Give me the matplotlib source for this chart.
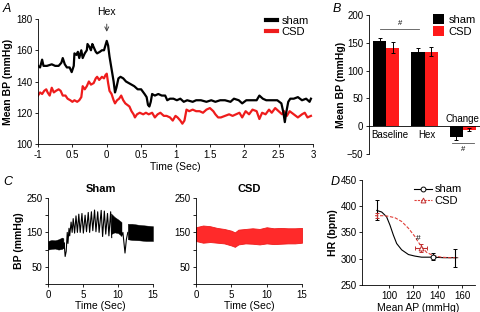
import matplotlib
matplotlib.use("Agg")
import matplotlib.pyplot as plt
import numpy as np
from matplotlib.lines import Line2D

plt.rcParams['font.family'] = ['Liberation Sans', 'DejaVu Sans']
plt.rcParams['font.size'] = 7
plt.rcParams['axes.linewidth'] = 0.6
plt.rcParams['xtick.major.width'] = 0.6
plt.rcParams['ytick.major.width'] = 0.6
plt.rcParams['xtick.major.size'] = 2.5
plt.rcParams['ytick.major.size'] = 2.5

RED = '#ee1c1c'

# ---------------- Panel A data ----------------
a_sham_t = [-1.00, -0.97, -0.94, -0.92, -0.87, -0.80, -0.75, -0.70, -0.66, -0.64, -0.61, -0.58, -0.54,
            -0.51, -0.48, -0.47, -0.44, -0.42, -0.40, -0.37, -0.35, -0.32, -0.29, -0.28, -0.25, -0.23,
            -0.21, -0.19, -0.16, -0.14, -0.10, -0.07, -0.04, -0.02, 0.00, 0.02, 0.04, 0.07, 0.10, 0.12,
            0.14, 0.17, 0.20, 0.24, 0.28, 0.32, 0.36, 0.40, 0.45, 0.50, 0.55, 0.58, 0.60, 0.62, 0.64,
            0.66, 0.70, 0.75, 0.80, 0.85, 0.88, 0.92, 0.97, 1.02, 1.07, 1.12, 1.17, 1.25, 1.30, 1.37,
            1.45, 1.52, 1.58, 1.65, 1.72, 1.80, 1.85, 1.92, 1.97, 2.03, 2.10, 2.18, 2.22, 2.27, 2.32,
            2.40, 2.48, 2.54, 2.57, 2.59, 2.61, 2.64, 2.67, 2.72, 2.78, 2.84, 2.90, 2.95, 2.97]
a_sham_v = [150, 149, 154, 150, 150, 151, 150, 150, 152, 155, 151, 149, 149,
            146, 150, 158, 157, 159, 155, 160, 155, 158, 160, 164, 162, 160,
            164, 162, 159, 158, 159, 160, 160, 163, 166, 163, 156, 148, 140, 133,
            136, 142, 143, 142, 140, 139, 138, 137, 135, 135, 132, 130, 125, 124, 127,
            132, 131, 132, 131, 131, 128, 129, 129, 128, 129, 127, 128, 127, 128, 128,
            127, 128, 127, 128, 128, 127, 129, 128, 126, 128, 128, 128, 131, 129, 128,
            128, 128, 126, 120, 114, 120, 127, 129, 129, 130, 128, 129, 127, 129]
a_csd_t = [-1.00, -0.97, -0.94, -0.91, -0.88, -0.86, -0.83, -0.80, -0.77, -0.74, -0.70, -0.67, -0.64,
           -0.60, -0.57, -0.53, -0.50, -0.47, -0.43, -0.40, -0.37, -0.35, -0.32, -0.29, -0.26, -0.23,
           -0.19, -0.16, -0.14, -0.11, -0.07, -0.04, -0.02, 0.00, 0.02, 0.04, 0.07, 0.10, 0.12, 0.15,
           0.18, 0.21, 0.24, 0.27, 0.30, 0.33, 0.36, 0.39, 0.41, 0.44, 0.48, 0.53, 0.57, 0.61, 0.66,
           0.70, 0.74, 0.78, 0.83, 0.87, 0.92, 0.96, 1.00, 1.03, 1.07, 1.10, 1.13, 1.16, 1.20, 1.25,
           1.30, 1.35, 1.40, 1.45, 1.50, 1.55, 1.58, 1.62, 1.66, 1.72, 1.78, 1.83, 1.88, 1.93, 1.97,
           2.02, 2.07, 2.12, 2.18, 2.22, 2.26, 2.31, 2.36, 2.40, 2.45, 2.50, 2.55, 2.58, 2.62, 2.66,
           2.72, 2.78, 2.84, 2.88, 2.92, 2.97]
a_csd_v = [131, 133, 132, 134, 135, 133, 131, 136, 133, 134, 135, 134, 131,
           131, 129, 128, 127, 128, 127, 128, 130, 137, 135, 137, 140, 138,
           139, 142, 143, 141, 143, 142, 144, 145, 139, 134, 132, 128, 126, 128,
           129, 131, 128, 126, 125, 124, 121, 119, 117, 119, 120, 119, 120, 119, 120,
           117, 119, 120, 118, 118, 117, 115, 118, 117, 115, 113, 115, 122, 121, 122,
           121, 121, 120, 122, 123, 121, 119, 117, 117, 118, 119, 118, 119, 120, 117,
           121, 119, 122, 121, 116, 120, 119, 122, 120, 123, 121, 119, 121, 118, 121,
           119, 117, 119, 120, 117, 118]
a_xticks = [-1, -0.5, 0, 0.5, 1, 1.5, 2, 2.5, 3]
a_xticklabels = ['-1', '0.5', '0', '0.5', '1', '1.5', '2', '2.5', '3']

# ---------------- Panel B data ----------------
b_groups = ['Baseline', 'Hex', 'Change']
b_sham = [154, 134, -20]
b_sham_err = [5, 7, 4]
b_csd = [141, 134, -6]
b_csd_err = [10, 8, 2]

# ---------------- Panel C data ----------------
c_sham_band1_t = [0.0, 0.5, 1.0, 1.5, 2.0, 2.2]
c_sham_band1_lo = [100, 102, 103, 100, 102, 105]
c_sham_band1_hi = [125, 128, 127, 130, 135, 133]
c_sham_zig_t = [2.2, 2.3, 2.45, 2.6, 2.75, 2.85, 3.0, 3.1, 3.3, 3.45, 3.6, 3.8, 4.0, 4.2, 4.4, 4.6,
                4.85, 5.05, 5.3, 5.5, 5.75, 5.95, 6.2, 6.4, 6.65, 6.85, 7.1, 7.3, 7.6, 7.8, 8.05,
                8.25, 8.5, 8.7, 8.95, 9.1]
c_sham_zig_v = [105, 120, 80, 95, 150, 118, 162, 140, 180, 150, 190, 148, 198, 150, 203, 150,
                205, 148, 200, 152, 208, 150, 210, 155, 215, 152, 210, 150, 214, 138, 212,
                145, 205, 140, 210, 135]
c_sham_band2_t = [9.0, 9.5, 10.0, 10.5]
c_sham_band2_lo = [145, 150, 148, 140]
c_sham_band2_hi = [205, 195, 188, 180]
c_sham_dip_t = [10.5, 10.7, 11.0, 11.2, 11.4]
c_sham_dip_v = [140, 150, 90, 130, 150]
c_sham_band3_t = [11.4, 12, 13, 14, 15]
c_sham_band3_lo = [130, 128, 127, 125, 125]
c_sham_band3_hi = [175, 175, 172, 170, 168]

c_csd_t = [0, 1, 2, 3, 4, 5, 5.5, 6, 7, 8, 9, 10, 11, 12, 13, 14, 15]
c_csd_lo = [125, 120, 122, 120, 118, 112, 108, 115, 118, 117, 115, 118, 116, 117, 118, 118, 120]
c_csd_hi = [165, 170, 168, 163, 160, 155, 150, 158, 160, 162, 160, 165, 162, 163, 162, 162, 163]

# ---------------- Panel D data ----------------
d_sham_x = [90, 136, 154]
d_sham_y = [392, 304, 302]
d_sham_yerr = [19, 7, 17]
d_csd_x = [90, 126]
d_csd_y = [382, 320]
d_csd_yerr = [5, 8]
d_csd_xerr = [0, 5]
d_sham_fit_x = [90, 94, 98, 100.8, 103.6, 106.3, 110.4, 116, 121.4, 126.8, 136, 145, 156]
d_sham_fit_y = [392, 389, 380, 364, 345, 329, 317, 308, 305, 303, 303, 302, 302]
d_csd_fit_x = [88.5, 95, 99.5, 105, 110.4, 116, 121.4, 124, 126.8, 131, 136.4, 143, 150, 157]
d_csd_fit_y = [382, 382, 381, 378, 371, 358, 342, 332, 323, 312, 306, 303, 302, 302]

W, H = 480, 312
fig = plt.figure(figsize=(4.8, 3.12), dpi=100)


def ax_px(l, t, r, b):
    return fig.add_axes([l / W, 1 - b / H, (r - l) / W, (b - t) / H])


def style(ax):
    ax.spines['top'].set_visible(False)
    ax.spines['right'].set_visible(False)


# ---------------- Panel A ----------------
axA = ax_px(38, 19, 313, 144)
style(axA)
axA.plot(a_sham_t, a_sham_v, color='black', lw=1.6, label='sham', zorder=3)
axA.plot(a_csd_t, a_csd_v, color=RED, lw=1.6, label='CSD', zorder=2)
axA.set_xlim(-1, 3)
axA.set_ylim(100, 180)
axA.set_yticks([100, 120, 140, 160, 180])
axA.set_xticks(a_xticks)
axA.set_xticklabels(a_xticklabels)
axA.set_ylabel('Mean BP (mmHg)', fontweight='bold', fontsize=7.5, labelpad=2)
axA.set_xlabel('Time (Sec)', fontsize=7.5, labelpad=2)
axA.tick_params(labelsize=7, pad=1.5)
axA.annotate('', xy=(0, 170), xytext=(0, 178.5),
             arrowprops=dict(arrowstyle='->', color='#444444', lw=0.7), annotation_clip=False)
axA.text(0, 181, 'Hex', ha='center', va='bottom', fontsize=7.5)
legA = axA.legend(loc='upper right', frameon=False, fontsize=8,
                  handlelength=1.0, handletextpad=0.4, borderaxespad=0.0, labelspacing=0.1,
                  bbox_to_anchor=(1.0, 1.06))
for line in legA.get_lines():
    line.set_linewidth(3)

# ---------------- Panel B ----------------
axB = ax_px(369, 15, 480, 154)
style(axB)
x = np.arange(len(b_groups))
bw = 0.34
axB.bar(x - bw / 2, b_sham, bw, color='black', label='sham')
axB.bar(x + bw / 2, b_csd, bw, color='#ff1a1a', label='CSD')
axB.errorbar(x - bw / 2, b_sham, yerr=b_sham_err, fmt='none', ecolor='black', elinewidth=0.7, capsize=1.5, capthick=0.7)
axB.errorbar(x + bw / 2, b_csd, yerr=b_csd_err, fmt='none', ecolor='black', elinewidth=0.7, capsize=1.5, capthick=0.7)
axB.set_xlim(-0.45, 2.45)
axB.set_ylim(-50, 200)
axB.set_yticks([-50, 0, 50, 100, 150, 200])
axB.spines['bottom'].set_position(('data', 0))
axB.spines['bottom'].set_bounds(-0.45, 2.6)
axB.set_xticks([])
axB.tick_params(labelsize=7, pad=1.5)
axB.set_ylabel('Mean BP (mmHg)', fontweight='bold', fontsize=7.5, labelpad=1)
axB.text(0.1, -16, b_groups[0], ha='center', va='center', fontsize=7)
axB.text(1.05, -16, b_groups[1], ha='center', va='center', fontsize=7)
axB.text(2.0, 13, b_groups[2], ha='center', va='center', fontsize=7)
axB.plot([-0.16, 0.86], [175, 175], color='#555555', lw=0.6)
axB.text(0.35, 178, '#', ha='center', va='bottom', fontsize=5.5)
axB.plot([1.71, 2.29], [-31, -31], color='#555555', lw=0.6, clip_on=False)
axB.text(2.0, -36, '#', ha='center', va='top', fontsize=5.5)
axB.legend(loc='upper right', frameon=False, fontsize=8, handlelength=1.0, handleheight=1.0,
           handletextpad=0.4, borderaxespad=0.0, labelspacing=0.15, bbox_to_anchor=(1.0, 1.04))

# ---------------- Panel C ----------------
axC1 = ax_px(48, 198, 153, 284)
style(axC1)
axC1.fill_between(c_sham_band1_t, c_sham_band1_lo, c_sham_band1_hi, color='black', lw=0.3)
axC1.plot(c_sham_zig_t, c_sham_zig_v, color='black', lw=0.8)
axC1.fill_between(c_sham_band2_t, c_sham_band2_lo, c_sham_band2_hi, color='black', lw=0.3)
axC1.plot(c_sham_dip_t, c_sham_dip_v, color='black', lw=0.8)
axC1.fill_between(c_sham_band3_t, c_sham_band3_lo, c_sham_band3_hi, color='black', lw=0.3)
axC1.set_title('Sham', fontweight='bold', fontsize=8, pad=4)
axC1.set_ylabel('BP (mmHg)', fontweight='bold', fontsize=7.5, labelpad=2)

axC2 = ax_px(196, 198, 302, 284)
style(axC2)
axC2.fill_between(c_csd_t, c_csd_lo, c_csd_hi, color='#ff2a2a', lw=0.6, edgecolor=RED)
axC2.set_title('CSD', fontweight='bold', fontsize=8, pad=4)

for ax in (axC1, axC2):
    ax.set_xlim(0, 15)
    ax.set_ylim(0, 250)
    ax.set_xticks([0, 5, 10, 15])
    ax.set_yticks([0, 50, 100, 150, 200, 250])
    ax.set_yticklabels(['', '50', '', '150', '', '250'])
    ax.set_xlabel('Time (Sec)', fontsize=7.5, labelpad=1)
    ax.tick_params(labelsize=7, pad=1.5)

# ---------------- Panel D ----------------
axD = ax_px(362, 180, 475, 285)
style(axD)
axD.plot(d_sham_fit_x, d_sham_fit_y, color='black', lw=0.8)
axD.plot(d_csd_fit_x, d_csd_fit_y, color='#e0403a', lw=0.8, ls=(0, (3, 1.5)))
axD.errorbar(d_sham_x, d_sham_y, yerr=d_sham_yerr, fmt='none', ecolor='black', elinewidth=0.8,
             capsize=1.5, capthick=0.7)
axD.errorbar(d_csd_x, d_csd_y, yerr=d_csd_yerr, xerr=d_csd_xerr, fmt='none', ecolor='#c03030',
             elinewidth=0.8, capsize=1.5, capthick=0.7)
axD.plot(d_csd_x[1:], d_csd_y[1:], ls='none', marker='^', ms=3.5, mfc='white', mec='#c03030', mew=0.7)
axD.plot(d_sham_x[1:2], d_sham_y[1:2], ls='none', marker='o', ms=3.5, mfc='white', mec='black', mew=0.7)
axD.text(124, 332, '#', ha='center', va='bottom', fontsize=6)
hs = [Line2D([], [], color='black', lw=0.8, marker='o', ms=3.5, mfc='white', mec='black', mew=0.7),
      Line2D([], [], color='#e0403a', lw=0.8, ls=(0, (2, 1)), marker='^', ms=3.5, mfc='white', mec='#c03030', mew=0.7)]
axD.legend(hs, ['sham', 'CSD'], loc='upper right', frameon=False, fontsize=8, handlelength=1.6,
           handletextpad=0.2, borderaxespad=0.0, labelspacing=0.1, bbox_to_anchor=(0.92, 1.0))
axD.set_xlim(77.8, 170.7)
axD.set_ylim(250, 450)
axD.set_xticks([100, 120, 140, 160])
axD.set_yticks([250, 300, 350, 400, 450])
axD.set_xlabel('Mean AP (mmHg)', fontsize=7.5, labelpad=2)
axD.set_ylabel('HR (bpm)', fontweight='bold', fontsize=7.5, labelpad=2)
axD.tick_params(labelsize=7, pad=1.5)

# Panel letters
for lab, px, py in [('A', 3, 9), ('B', 333, 9), ('C', 3, 182), ('D', 331, 182)]:
    fig.text(px / W, 1 - py / H, lab, fontsize=9, fontstyle='italic', ha='left', va='center')

fig.savefig('out.png', dpi=100)
